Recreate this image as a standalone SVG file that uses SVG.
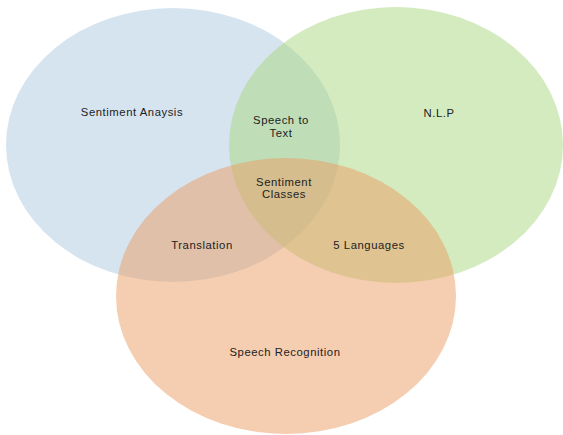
<svg xmlns="http://www.w3.org/2000/svg" width="563" height="435" viewBox="0 0 563 435">
<style>
.t{font-family:"Liberation Sans",Arial,sans-serif;font-size:11.3px;letter-spacing:0.55px;fill:#222;text-anchor:middle}
.c{opacity:0.5}
</style>
<rect width="563" height="435" fill="#ffffff"/>
<g id="sentiment-analysis">
<ellipse class="c" cx="173" cy="145" rx="167" ry="137" fill="#adc9e1"/>
<text class="t" x="132" y="116">Sentiment Anaysis</text>
</g>
<g id="nlp">
<ellipse class="c" cx="396" cy="145" rx="167" ry="138" fill="#a7d77f"/>
<text class="t" x="439" y="117">N.L.P</text>
</g>
<g id="speech-recognition">
<ellipse class="c" cx="286" cy="296" rx="170" ry="138" fill="#eb9b61"/>
<text class="t" x="285" y="356">Speech Recognition</text>
</g>
<g id="speech-to-text">
<text class="t" x="281" y="124">Speech to</text>
<text class="t" x="281" y="137">Text</text>
</g>
<g id="sentiment-classes">
<text class="t" x="284" y="186">Sentiment</text>
<text class="t" x="284" y="198">Classes</text>
</g>
<g id="translation">
<text class="t" x="202" y="249">Translation</text>
</g>
<g id="five-languages">
<text class="t" x="369" y="249">5 Languages</text>
</g>
<g id="connectors"></g>
</svg>
